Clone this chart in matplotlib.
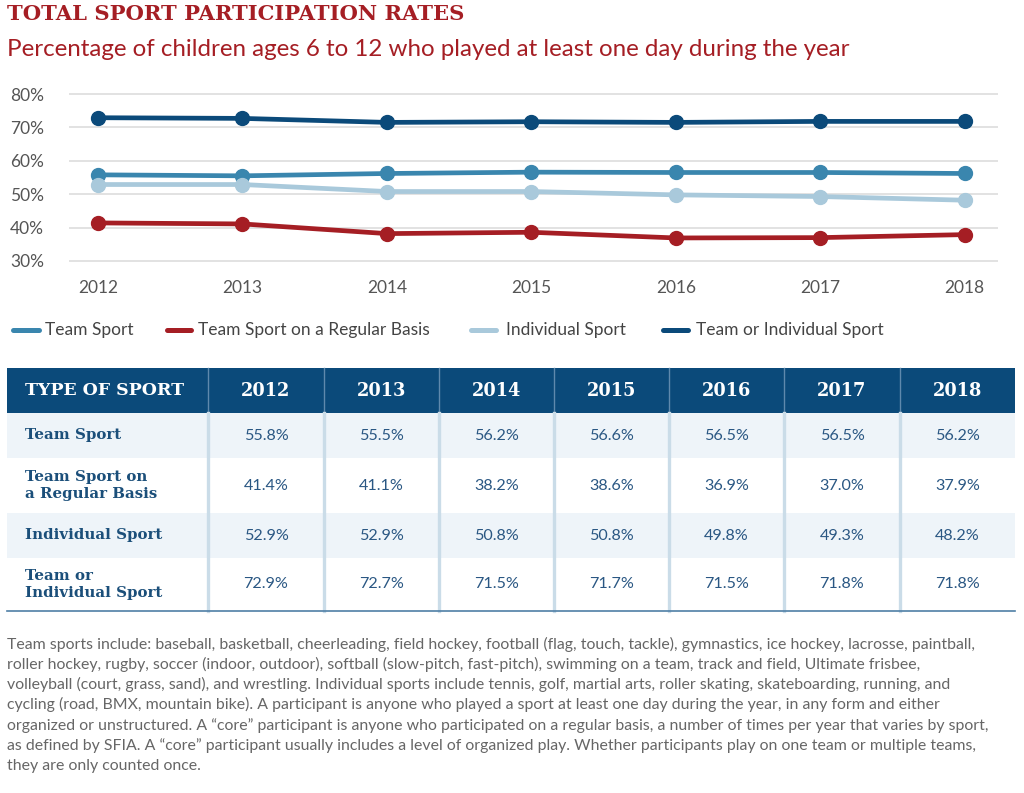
import matplotlib
matplotlib.use("Agg")
import matplotlib.pyplot as plt
from matplotlib.patches import Rectangle

years = [2012, 2013, 2014, 2015, 2016, 2017, 2018]
series_names = ["Team Sport", "Team Sport on a Regular Basis", "Individual Sport", "Team or Individual Sport"]
row_labels = ["Team Sport", "Team Sport on\na Regular Basis", "Individual Sport", "Team or\nIndividual Sport"]
team_sport = [55.8, 55.5, 56.2, 56.6, 56.5, 56.5, 56.2]
team_regular = [41.4, 41.1, 38.2, 38.6, 36.9, 37.0, 37.9]
individual = [52.9, 52.9, 50.8, 50.8, 49.8, 49.3, 48.2]
team_or_individual = [72.9, 72.7, 71.5, 71.7, 71.5, 71.8, 71.8]
y_ticks = [30, 40, 50, 60, 70, 80]

colors = ["#3A86AE", "#A51E24", "#A9C9DB", "#0B4A7A"]
all_series = [team_sport, team_regular, individual, team_or_individual]

SANS = ["Lato", "DejaVu Sans"]
SLAB = ["DejaVu Serif"]
RED = "#A51E24"
NAVY = "#0B4A7A"

fig = plt.figure(figsize=(10.24, 7.93), dpi=100)
bg = fig.add_axes([0, 0, 1, 1])
bg.set_xlim(0, 1024)
bg.set_ylim(793, 0)
bg.axis("off")

# Titles
bg.text(7, 14, "TOTAL SPORT PARTICIPATION RATES", family=SLAB, weight="bold",
        fontsize=15.2, color=RED, va="center", ha="left")
bg.text(7, 50, "Percentage of children ages 6 to 12 who played at least one day during the year",
        family=SANS, fontsize=17.4, color=RED, va="center", ha="left")

# Chart
ax = fig.add_axes([69/1024, 1-265/793, (998-69)/1024, 175/793])
for vals, c, name in zip(all_series, colors, series_names):
    ax.plot(years, vals, color=c, lw=3.4, marker="o", markersize=10, label=name,
            solid_capstyle="round", zorder=3)
ax.set_xlim(2012 - 0.2, 2018 + 0.23)
ax.set_ylim(28.8, 81.2)
ax.set_yticks(y_ticks)
ax.set_yticklabels([f"{v}%" for v in y_ticks])
ax.set_xticks(years)
ax.set_xticklabels([str(y) for y in years])
for s in ax.spines.values():
    s.set_visible(False)
ax.tick_params(axis="both", length=0, labelsize=12.5, labelcolor="#555555")
ax.tick_params(axis="y", pad=18)
ax.tick_params(axis="x", pad=11)
for lab in ax.get_xticklabels() + ax.get_yticklabels():
    lab.set_family(SANS)
for v in y_ticks:
    ax.axhline(v, color="#DDDDDD", lw=1.2, zorder=1)
ax.patch.set_alpha(0)

# Legend (drawn manually at fixed positions)
leg_handles_x = [(13, 39), (167, 191), (471, 496), (663, 688)]
leg_text_x = [45, 198, 506, 696]
leg_y = 330
for (x0, x1), tx, c, name in zip(leg_handles_x, leg_text_x, colors, series_names):
    bg.plot([x0, x1], [leg_y, leg_y], color=c, lw=3.6, solid_capstyle="round")
    bg.text(tx, leg_y, name, family=SANS, fontsize=12.5, color="#444444",
            va="center", ha="left")

# Table
col_edges = [7, 208, 324, 439, 554, 669, 784, 900, 1015]
row_edges = [368, 413, 458, 513, 558, 611]
row_bg = ["#EEF4F9", "#FFFFFF", "#EEF4F9", "#FFFFFF"]
bg.add_patch(Rectangle((col_edges[0], row_edges[0]), col_edges[-1]-col_edges[0],
                       row_edges[1]-row_edges[0], color=NAVY, lw=0))
for i in range(4):
    bg.add_patch(Rectangle((col_edges[0], row_edges[i+1]), col_edges[-1]-col_edges[0],
                           row_edges[i+2]-row_edges[i+1], color=row_bg[i], lw=0))
for x in col_edges[1:-1]:
    bg.plot([x, x], [row_edges[0], row_edges[1]], color="#5F89AD", lw=1)
    bg.plot([x, x], [row_edges[1], row_edges[-1]], color="#CADCE8", lw=2.4)
bg.plot([col_edges[0], col_edges[-1]], [row_edges[-1], row_edges[-1]], color="#4F7FA6", lw=1.2)

hy = (row_edges[0] + row_edges[1]) / 2
bg.text(25, hy, "TYPE OF SPORT", family=SLAB, weight="bold", fontsize=12.5,
        color="white", va="center", ha="left")
for j, y in enumerate(years):
    cx = (col_edges[j+1] + col_edges[j+2]) / 2
    bg.text(cx, hy, str(y), family=SLAB, weight="bold", fontsize=12.8,
            color="white", va="center", ha="center")

for i, (lab, vals) in enumerate(zip(row_labels, all_series)):
    cy = (row_edges[i+1] + row_edges[i+2]) / 2
    bg.text(25, cy, lab, family=SLAB, weight="bold", fontsize=10.8, color="#1B4F7A",
            va="center", ha="left", linespacing=1.3)
    for j, v in enumerate(vals):
        cx = (col_edges[j+1] + col_edges[j+2]) / 2
        bg.text(cx, cy, f"{v:.1f}%", family=SANS, fontsize=11.6, color="#2A5783",
                va="center", ha="center")

# Footnote
foot = [
    "Team sports include: baseball, basketball, cheerleading, field hockey, football (flag, touch, tackle), gymnastics, ice hockey, lacrosse, paintball,",
    "roller hockey, rugby, soccer (indoor, outdoor), softball (slow-pitch, fast-pitch), swimming on a team, track and field, Ultimate frisbee,",
    "volleyball (court, grass, sand), and wrestling. Individual sports include tennis, golf, martial arts, roller skating, skateboarding, running, and",
    "cycling (road, BMX, mountain bike). A participant is anyone who played a sport at least one day during the year, in any form and either",
    "organized or unstructured. A \u201ccore\u201d participant is anyone who participated on a regular basis, a number of times per year that varies by sport,",
    "as defined by SFIA. A \u201ccore\u201d participant usually includes a level of organized play. Whether participants play on one team or multiple teams,",
    "they are only counted once.",
]
for k, line in enumerate(foot):
    bg.text(7, 644 + k * 20.3, line, family=SANS, fontsize=11.4, color="#666666",
            va="center", ha="left")

fig.savefig("out.png", dpi=100)
